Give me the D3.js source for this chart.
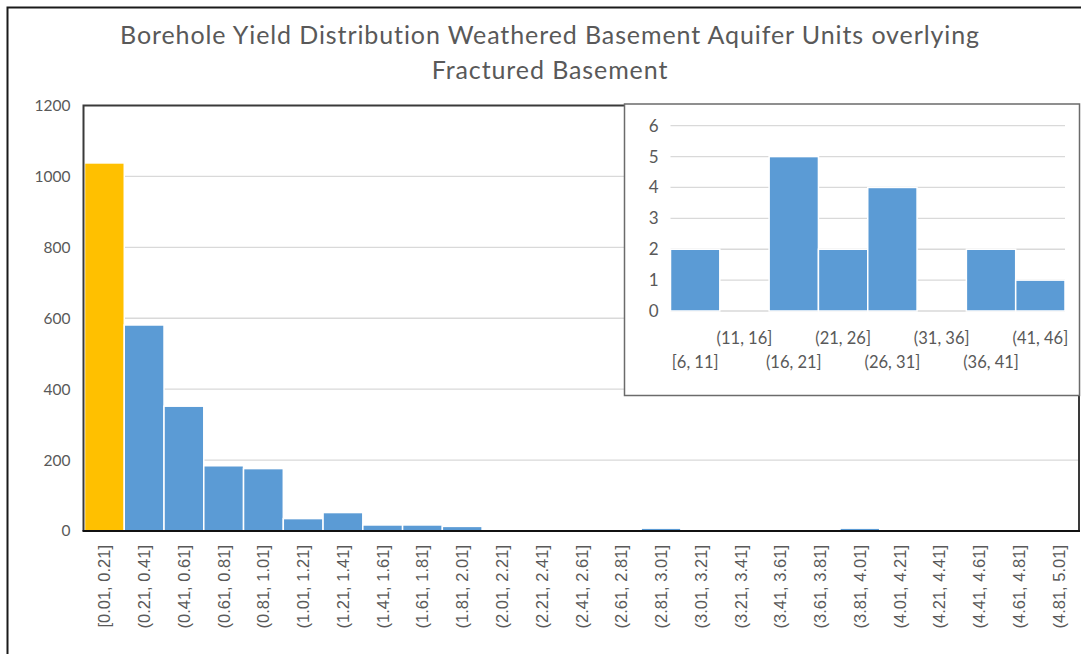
<!DOCTYPE html>
<html>
<head>
<meta charset="utf-8">
<script src="https://cdn.jsdelivr.net/npm/d3@7/dist/d3.min.js"></script>
<style>
  html, body { margin: 0; padding: 0; background: #fff; }
  svg { display: block; }
  text { fill: #595959; }
</style>
</head>
<body>
<svg id="chart" width="1081" height="654"></svg>
<script>
// Main histogram: borehole yield classes and counts
const yieldClasses = [
  "[0.01, 0.21]", "(0.21, 0.41]", "(0.41, 0.61]", "(0.61, 0.81]", "(0.81, 1.01]",
  "(1.01, 1.21]", "(1.21, 1.41]", "(1.41, 1.61]", "(1.61, 1.81]", "(1.81, 2.01]",
  "(2.01, 2.21]", "(2.21, 2.41]", "(2.41, 2.61]", "(2.61, 2.81]", "(2.81, 3.01]",
  "(3.01, 3.21]", "(3.21, 3.41]", "(3.41, 3.61]", "(3.61, 3.81]", "(3.81, 4.01]",
  "(4.01, 4.21]", "(4.21, 4.41]", "(4.41, 4.61]", "(4.61, 4.81]", "(4.81, 5.01]"
];
const yieldCounts = [
  1038, 581, 352, 184, 176,
  35, 52, 17, 17, 13,
  0, 0, 0, 0, 8,
  0, 0, 0, 0, 8,
  0, 0, 0, 0, 0
];
const highlightedClass = "[0.01, 0.21]";
const mainYTicks = [0, 200, 400, 600, 800, 1000, 1200];

// Inset histogram: high-yield boreholes
const highYieldClasses = ["[6, 11]", "(11, 16]", "(16, 21]", "(21, 26]", "(26, 31]", "(31, 36]", "(36, 41]", "(41, 46]"];
const highYieldCounts = [2, 0, 5, 2, 4, 0, 2, 1];
const insetYTicks = [0, 1, 2, 3, 4, 5, 6];

const titleLines = [
  "Borehole Yield Distribution Weathered Basement Aquifer Units overlying",
  "Fractured Basement"
];

const BLUE = "#5B9BD5", GOLD = "#FFC000", GRID = "#d9d9d9", TEXT = "#595959";

const svg = d3.select("#chart");

// outer chart frame
svg.append("rect")
  .attr("x", 7.5).attr("y", 7.5).attr("width", 1200).attr("height", 800)
  .attr("fill", "#fff").attr("stroke", "#1a1a1a").attr("stroke-width", 2);

// title
const title = svg.append("g")
  .attr("font-family", "Lato, 'Open Sans', sans-serif")
  .attr("font-size", 25)
  .attr("letter-spacing", 0.9);
title.selectAll("text").data(titleLines).join("text")
  .attr("x", 550).attr("y", (d, i) => 44 + i * 35)
  .attr("text-anchor", "middle")
  .text(d => d);

// ---- main plot ----
const plot = { left: 83.5, right: 1079, top: 105.5, bottom: 531 };
const x = d3.scaleBand().domain(yieldClasses).range([84.5, 1078.5]).paddingInner(0).paddingOuter(0);
const y = d3.scaleLinear().domain([0, 1200]).range([plot.bottom, plot.top]);

// gridlines
svg.append("g")
  .selectAll("line").data(mainYTicks.filter(t => t > 0 && t < 1200)).join("line")
  .attr("x1", plot.left).attr("x2", plot.right)
  .attr("y1", d => y(d)).attr("y2", d => y(d))
  .attr("stroke", GRID).attr("stroke-width", 1.3);

// bars
svg.append("g")
  .selectAll("rect").data(yieldClasses.map((c, i) => ({ c, v: yieldCounts[i] })))
  .join("rect")
  .attr("x", d => x(d.c))
  .attr("width", x.bandwidth())
  .attr("y", d => y(d.v))
  .attr("height", d => y(0) - y(d.v))
  .attr("fill", d => d.c === highlightedClass ? GOLD : BLUE)
  .attr("stroke", "#fff").attr("stroke-width", 1.5);

// plot area border
svg.append("path")
  .attr("d", `M${plot.left},${plot.bottom}V${plot.top}H${plot.right}V${plot.bottom}`)
  .attr("fill", "none").attr("stroke", "#3a3a3a").attr("stroke-width", 2);

// y axis labels
const yAxis = svg.append("g")
  .attr("transform", `translate(${plot.left},0)`)
  .call(d3.axisLeft(y).tickValues(mainYTicks).tickFormat(d3.format("d")).tickSize(0).tickPadding(13));
yAxis.select(".domain").remove();
yAxis.selectAll("text")
  .attr("font-family", "Lato, 'Open Sans', sans-serif").attr("font-size", 15.5)
  .attr("fill", TEXT);

// x axis with rotated category labels
const xAxis = svg.append("g")
  .attr("transform", `translate(0,${plot.bottom})`)
  .call(d3.axisBottom(x).tickSize(0).tickPadding(0));
xAxis.select(".domain")
  .attr("stroke", "#111").attr("stroke-width", 2.2)
  .attr("d", `M${plot.left - 1},0H${plot.right + 1}`);
xAxis.selectAll("text")
  .attr("font-family", "'Liberation Sans', Arial, sans-serif").attr("font-size", 16.5)
  .attr("fill", TEXT)
  .attr("text-anchor", "end")
  .attr("dy", null)
  .attr("transform", "translate(6,14) rotate(-90)");

// ---- inset ----
const inset = { left: 624.5, top: 104, right: 1079.5, bottom: 395.5 };
svg.append("rect")
  .attr("x", inset.left).attr("y", inset.top)
  .attr("width", inset.right - inset.left).attr("height", inset.bottom - inset.top)
  .attr("fill", "#fff").attr("stroke", "#6b6b6b").attr("stroke-width", 1.5);

const ix = d3.scaleBand().domain(highYieldClasses).range([670.5, 1065]).paddingInner(0);
const iy = d3.scaleLinear().domain([0, 6]).range([311, 125.7]);

svg.append("g")
  .selectAll("line").data(insetYTicks).join("line")
  .attr("x1", 670.5).attr("x2", 1065)
  .attr("y1", d => iy(d)).attr("y2", d => iy(d))
  .attr("stroke", GRID).attr("stroke-width", 1.3);

svg.append("g")
  .selectAll("rect").data(highYieldClasses.map((c, i) => ({ c, v: highYieldCounts[i] })))
  .join("rect")
  .attr("x", d => ix(d.c))
  .attr("width", ix.bandwidth())
  .attr("y", d => iy(d.v))
  .attr("height", d => iy(0) - iy(d.v))
  .attr("fill", BLUE)
  .attr("stroke", "#fff").attr("stroke-width", 1.5);

const iyAxis = svg.append("g")
  .attr("transform", "translate(670.5,0)")
  .call(d3.axisLeft(iy).tickValues(insetYTicks).tickFormat(d3.format("d")).tickSize(0).tickPadding(12));
iyAxis.select(".domain").remove();
iyAxis.selectAll("text")
  .attr("font-family", "Lato, 'Open Sans', sans-serif").attr("font-size", 17)
  .attr("fill", TEXT);

// staggered category labels
const ixAxis = svg.append("g")
  .attr("transform", "translate(0,311)")
  .call(d3.axisBottom(ix).tickSize(0).tickPadding(0));
ixAxis.select(".domain").remove();
ixAxis.selectAll("text")
  .attr("font-family", "Lato, 'Open Sans', sans-serif").attr("font-size", 16.5)
  .attr("fill", TEXT)
  .attr("dy", null)
  .attr("y", (d, i) => i % 2 === 1 ? 33 : 57);
</script>
</body>
</html>
